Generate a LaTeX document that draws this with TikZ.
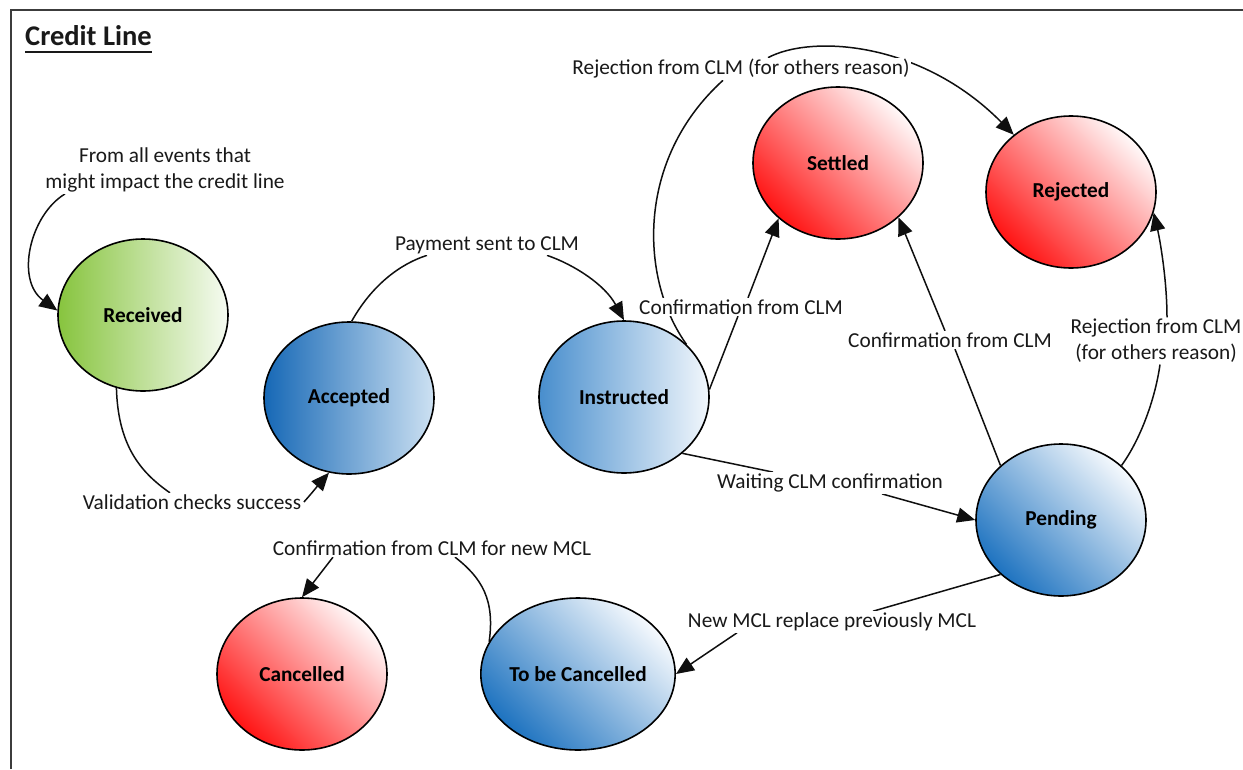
\documentclass[tikz,border=0pt]{standalone}
\usepackage{fontspec}
\setmainfont{Carlito}
\usetikzlibrary{arrows.meta,shapes.geometric}
\definecolor{grnA}{RGB}{135,196,62}
\definecolor{grnB}{RGB}{246,251,242}
\definecolor{bluA}{RGB}{22,104,182}
\definecolor{bluB}{RGB}{205,225,242}
\definecolor{insA}{RGB}{72,142,205}
\definecolor{insB}{RGB}{242,247,252}
\definecolor{penA}{RGB}{30,115,192}
\definecolor{penB}{RGB}{245,249,253}
\definecolor{redA}{RGB}{255,20,20}
\definecolor{redB}{RGB}{255,248,248}
\definecolor{txt}{RGB}{25,25,25}
\definecolor{lin}{RGB}{15,15,15}
\definecolor{frm}{RGB}{60,60,60}
\pgfdeclarelayer{back}
\pgfdeclarelayer{bg}
\pgfsetlayers{back,bg,main}
\begin{document}
\begin{tikzpicture}[x=1pt,y=-1pt,
  state/.style={ellipse,draw=black,line width=1.6pt,minimum width=170pt,minimum height=152pt,inner sep=0pt,
    font=\fontsize{21.3}{26}\selectfont\bfseries},
  greenst/.style={state,left color=grnA,right color=grnB},
  accst/.style={state,left color=bluA,right color=bluB},
  insst/.style={state,left color=insA,right color=insB},
  diagblue/.style={state,left color=penA,right color=penB,shading angle=135},
  diagred/.style={state,left color=redA,right color=redB,shading angle=135},
  lbl/.style={fill=white,inner sep=1.5pt,text=txt,align=center,font=\fontsize{21.3}{26}\selectfont},
  conn/.style={line width=1.5pt,draw=lin},
  arr/.style={conn,-{Triangle[length=18pt,width=15pt]}}
]
\useasboundingbox (0,0) rectangle (1243,769);
\begin{pgfonlayer}{back}
\fill[white] (0,0) rectangle (1243,769);
\end{pgfonlayer}
\draw[line width=2pt,draw=frm] (11,769) -- (11,10) -- (1243,10);

\node[anchor=base west,inner sep=0pt,font=\fontsize{28.5}{34}\selectfont\bfseries,text=txt] (title) at (25,45) {Credit Line};
\draw[line width=1.8pt,draw=txt] ([yshift=-7pt]title.base west) -- ([yshift=-7pt]title.base east);

% states
\node[greenst] (Received) at (143,315) {Received};
\node[accst] (Accepted) at (349,398) {Accepted};
\node[insst] (Instructed) at (624,397) {Instructed};
\node[diagred] (Settled) at (838,163) {Settled};
\node[diagred] (Rejected) at (1071,192) {Rejected};
\node[diagblue] (Pending) at (1061,520) {Pending};
\node[diagred] (Cancelled) at (302,674) {Cancelled};
\node[diagblue] (ToBe) at (578,674) {To be Cancelled};

% labels
\node[lbl] (L0) at (165,170) {From all events that\\might impact the credit line};
\node[lbl] (Lval) at (192,502) {Validation checks success};
\node[lbl] (Lpay) at (487,245) {Payment sent to CLM};
\node[lbl] (Lconf1) at (741,307) {Confirmation from CLM};
\node[lbl] (Lrej1) at (741,69) {Rejection from CLM (for others reason)};
\node[lbl] (Lwait) at (830,483) {Waiting CLM confirmation};
\node[lbl] (Lconf2) at (950,340) {Confirmation from CLM};
\node[lbl] (Lrej2) at (1156,341) {Rejection from CLM\\(for others reason)};
\node[lbl] (Lnew) at (832,622) {New MCL replace previously MCL};
\node[lbl] (Lcanc) at (432,548) {Confirmation from CLM for new MCL};

\begin{pgfonlayer}{bg}
\draw[arr] ([xshift=-100pt]L0.south) .. controls (30,215) and (15,280) .. (Received.177);
\draw[conn] (Received.250) .. controls (118,445) and (140,472) .. ([xshift=-22pt]Lval.north);
\draw[arr] ([xshift=1pt]Lval.east) .. controls (312,493) and (320,483) .. (Accepted.255);
\draw[conn] (Accepted.88) .. controls (372,285) and (400,264) .. ([xshift=-60pt]Lpay.south);
\draw[arr] ([xshift=60pt]Lpay.south) .. controls (575,265) and (605,285) .. (Instructed.90);
\draw[conn] (Instructed.5) -- ([xshift=-3pt]Lconf1.south);
\draw[arr] ([xshift=7pt]Lconf1.north) -- (Settled.223);
\draw[conn] (Instructed.40) .. controls (640,280) and (635,160) .. ([xshift=-18pt]Lrej1.south);
\draw[arr] ([xshift=27pt]Lrej1.north) .. controls (810,35) and (920,40) .. (Rejected.135);
\draw[conn] (Instructed.316) -- ([xshift=-57pt]Lwait.north);
\draw[arr] ([xshift=52pt]Lwait.south) -- (Pending.180);
\draw[conn] (Pending.138) -- ([xshift=5pt]Lconf2.south);
\draw[arr] ([xshift=-5pt]Lconf2.north) -- (Settled.318);
\draw[conn] (Pending.42) .. controls (1140,440) and (1155,400) .. ([xshift=4pt]Lrej2.south);
\draw[arr] ([xshift=11pt]Lrej2.north) .. controls (1167,280) and (1160,240) .. (Rejected.346);
\draw[conn] (Pending.222) -- ([xshift=41pt]Lnew.north);
\draw[arr] ([xshift=-95pt]Lnew.south) -- (ToBe.0);
\draw[conn] (ToBe.160) .. controls (495,600) and (482,578) .. ([xshift=23pt]Lcanc.south);
\draw[arr] ([xshift=-99pt]Lcanc.south) -- (Cancelled.90);
\end{pgfonlayer}
\end{tikzpicture}
\end{document}
